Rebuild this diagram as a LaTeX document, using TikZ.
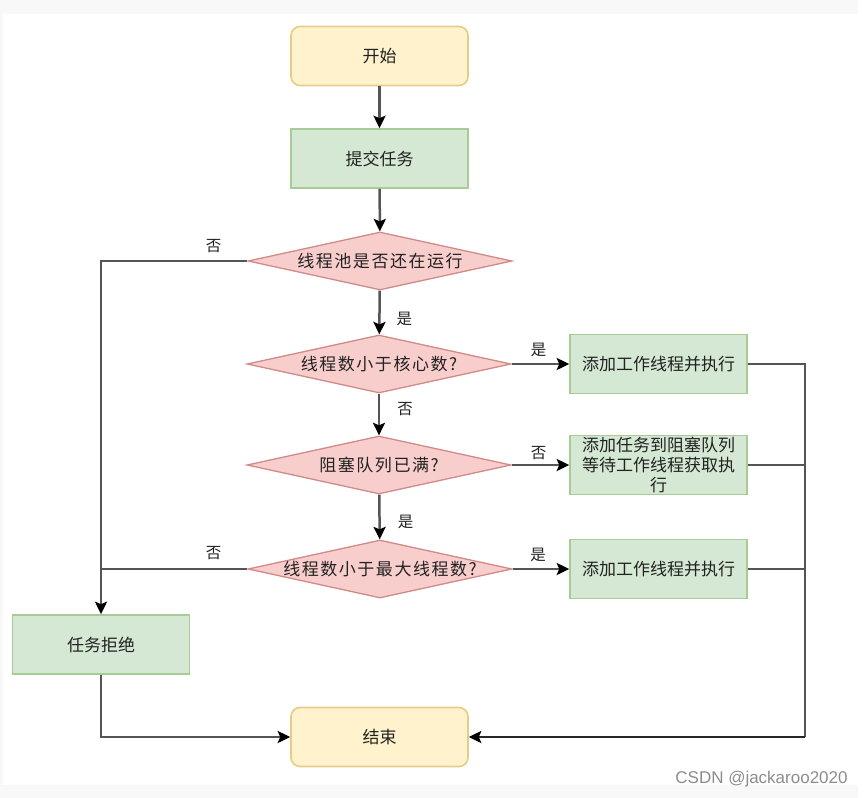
\documentclass[tikz,border=0pt]{standalone}
\usepackage{fontspec}
\setmainfont{Noto Sans CJK SC}
\newfontfamily\latinfont{Liberation Sans}
\usetikzlibrary{arrows.meta,shapes.geometric}
\definecolor{yellowfill}{HTML}{FFF2CC}
\definecolor{yellowline}{HTML}{E6CD85}
\definecolor{greenfill}{HTML}{D5E8D4}
\definecolor{greenline}{HTML}{A7CC96}
\definecolor{redfill}{HTML}{F8CECC}
\definecolor{redline}{HTML}{D08A88}
\definecolor{txt}{HTML}{222222}
\definecolor{edgecol}{HTML}{555555}
\definecolor{bandcol}{HTML}{F8F8F8}
\begin{document}
\begin{tikzpicture}[x=1pt,y=-1pt,
  boxbase/.style={minimum width=177pt,minimum height=59pt,inner sep=0pt,
    font=\fontsize{17}{20}\selectfont,text=txt,line width=1.6pt},
  term/.style={boxbase,rounded corners=9pt,draw=yellowline,fill=yellowfill},
  proc/.style={boxbase,draw=greenline,fill=greenfill},
  dec/.style={diamond,draw=redline,fill=redfill,line width=1.3pt,
    minimum width=264pt,minimum height=58pt,inner sep=0pt},
  dtext/.style={font=\fontsize{17}{20}\selectfont\addfontfeature{LetterSpace=9},text=txt},
  plainline/.style={draw=edgecol,line width=2.5pt},
  conn/.style={plainline,-{Stealth[length=12.5pt,width=12pt,inset=2.5pt,color=black]}},
  lab/.style={font=\fontsize{15.5}{16}\selectfont,text=txt,inner sep=0pt}]
\useasboundingbox (0,0) rectangle (865,798);
\fill[bandcol] (0,0) rectangle (858,14);
\fill[bandcol] (0,785) rectangle (858,798);
\fill[bandcol] (0,0) rectangle (3,798);

% nodes
\node[term] (start) at (379.5,56) {开始};
\node[proc] (submit) at (379.5,158.5) {提交任务};
\node[dec,label={[dtext]center:线程池是否还在运行}] (d1) at (380,261) {};
\node[dec,label={[dtext]center:线程数小于核心数?}] (d2) at (379,364) {};
\node[dec,label={[dtext]center:阻塞队列已满?}] (d3) at (379,465) {};
\node[dec,label={[dtext]center:线程数小于最大线程数?}] (d4) at (380,569) {};
\node[proc] (r1) at (658.5,364) {添加工作线程并执行};
\node[proc,align=center,font=\fontsize{17}{20}\selectfont] (r2) at (658.5,465) {添加任务到阻塞队列\\等待工作线程获取执\\行};
\node[proc] (r3) at (658.5,569) {添加工作线程并执行};
\node[proc] (reject) at (101,644.5) {任务拒绝};
\node[term] (end) at (379.5,737) {结束};

\coordinate (lt) at (101,261);
\coordinate (lj) at (101,569);
\coordinate (lb) at (101,737);
\coordinate (rc1) at (805,364);
\coordinate (rc2) at (805,465);
\coordinate (rc3) at (805,569);
\coordinate (rb) at (805,737);

% connectors
\draw[conn] (start) -- (submit);
\draw[conn] (submit) -- (d1);
\draw[conn] (d1) -- node[lab,pos=0.65,xshift=25pt] {是} (d2);
\draw[conn] (d2) -- node[lab,pos=0.38,xshift=26pt] {否} (d3);
\draw[conn] (d3) -- node[lab,pos=0.6,xshift=26pt] {是} (d4);
\draw[conn] (d2) -- node[lab,pos=0.47,yshift=14pt] {是} (r1);
\draw[conn] (d3) -- node[lab,pos=0.47,yshift=12pt] {否} (r2);
\draw[conn] (d4) -- node[lab,pos=0.45,yshift=14pt] {是} (r3);
\draw[conn] (d1.west) -- node[lab,pos=0.23,yshift=15pt] {否} (lt) -- (reject);
\draw[plainline] (d4.west) -- node[lab,pos=0.23,yshift=16pt] {否} (lj);
\draw[conn] (reject) -- (lb) -- (end);
\draw[plainline] (r1) -- (rc1) -- (rb);
\draw[plainline] (r2) -- (rc2);
\draw[plainline] (r3) -- (rc3);
\draw[conn,draw=black!85] (rb) -- (end);

\node[font=\latinfont\fontsize{17}{17}\selectfont,text=black!45,inner sep=0pt] (wm) at (761.5,779) {CSDN @jackaroo2020};
\end{tikzpicture}
\end{document}
